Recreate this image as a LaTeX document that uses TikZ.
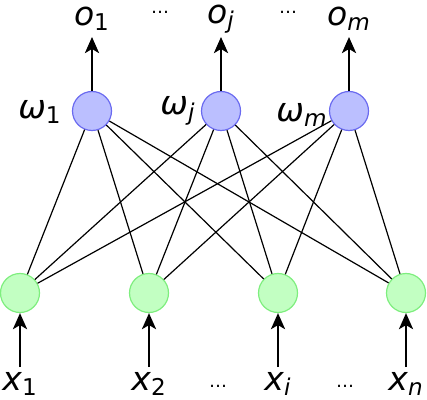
\documentclass[tikz,border=0pt]{standalone}
\usepackage{fontspec}
\setmainfont{DejaVu Sans}
\usetikzlibrary{arrows.meta}
\definecolor{outfill}{HTML}{BBBFFF}
\definecolor{outdraw}{HTML}{6A6AF0}
\definecolor{infill}{HTML}{C2FFC2}
\definecolor{indraw}{HTML}{7EEE7E}
\begin{document}
\begin{tikzpicture}[x=0.5pt, y=-0.5pt,
  every node/.style={font=\fontsize{16.5}{19}\selectfont},
  neuron/.style={circle, draw, line width=0.6pt, minimum size=19.5pt, inner sep=0pt},
  outn/.style={neuron, fill=outfill, draw=outdraw},
  inn/.style={neuron, fill=infill, draw=indraw},
  link/.style={line width=0.6pt},
  dots/.style={font=\fontsize{9}{10}\selectfont},
  arrow/.style={-{Stealth[length=8pt, width=7pt, inset=2pt]}, line width=1.4pt}]
\useasboundingbox (0,0) rectangle (427,400);

% output layer
\node[outn] (o1) at (92,111) {};
\node[outn] (oj) at (221,111) {};
\node[outn] (om) at (349,111) {};
\node (w1) at (40,112) {\textit{ω}\textsubscript{1}};
\node (wj) at (178,111) {\textit{ω}\textsubscript{\textit{j}}};
\node (wm) at (302,115) {\textit{ω}\textsubscript{\textit{m}}};

% input layer
\node[inn] (x1) at (20,293) {};
\node[inn] (x2) at (149,293) {};
\node[inn] (xi) at (278,293) {};
\node[inn] (xn) at (406,293) {};

% labels
\node (lo1) at (92,19) {\textit{o}\textsubscript{1}};
\node (loj) at (221,19) {\textit{o}\textsubscript{\textit{j}}};
\node (lom) at (349,19) {\textit{o}\textsubscript{\textit{m}}};
\node[dots] (d1) at (160,12) {…};
\node[dots] (d2) at (288,12) {…};
\coordinate (a1) at (92,37);
\coordinate (aj) at (221,37);
\coordinate (am) at (349,37);

\node (lx1) at (20,384) {\textit{x}\textsubscript{1}};
\node (lx2) at (149,384) {\textit{x}\textsubscript{2}};
\node (lxi) at (278,384) {\textit{x}\textsubscript{\textit{i}}};
\node (lxn) at (406,384) {\textit{x}\textsubscript{\textit{n}}};
\node[dots] (d3) at (218,386) {…};
\node[dots] (d4) at (345,386) {…};
\coordinate (b1) at (20,367);
\coordinate (b2) at (149,367);
\coordinate (bi) at (278,367);
\coordinate (bn) at (406,367);

\foreach \o in {o1,oj,om}
  \foreach \x in {x1,x2,xi,xn}
    \draw[link] (\o) -- (\x);

\draw[arrow] (o1) -- (a1);
\draw[arrow] (oj) -- (aj);
\draw[arrow] (om) -- (am);
\draw[arrow] (b1) -- (x1);
\draw[arrow] (b2) -- (x2);
\draw[arrow] (bi) -- (xi);
\draw[arrow] (bn) -- (xn);

\end{tikzpicture}
\end{document}
